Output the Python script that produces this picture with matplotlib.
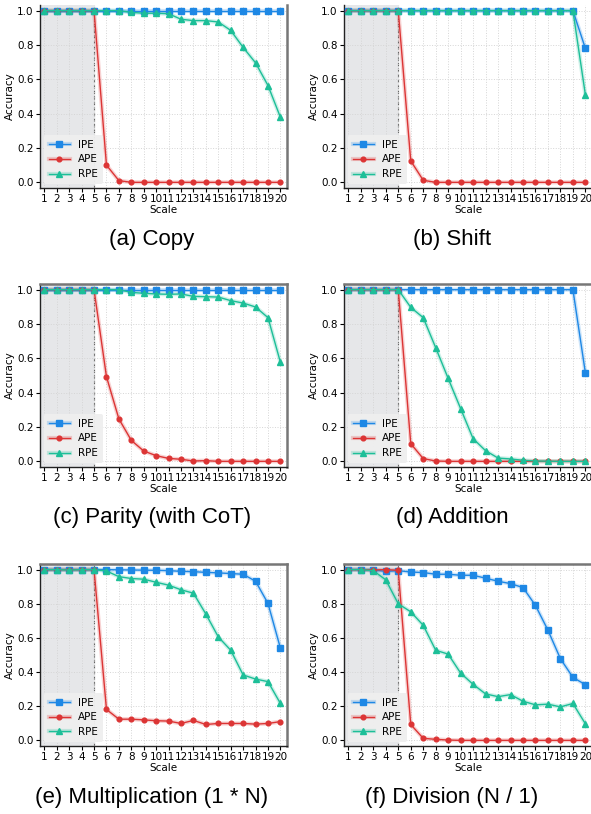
import matplotlib
matplotlib.use("Agg")
import matplotlib.pyplot as plt

scale = list(range(1, 21))

# (a) Copy
copy_ipe = [1.0] * 20
copy_ape = [1, 1, 1, 1, 1, 0.10, 0.01, 0, 0, 0, 0, 0, 0, 0, 0, 0, 0, 0, 0, 0]
copy_rpe = [1, 1, 1, 1, 1, 1, 1, 0.99, 0.985, 0.985, 0.982, 0.95, 0.942, 0.942, 0.934,
            0.885, 0.786, 0.696, 0.564, 0.379]

# (b) Shift
shift_ipe = [1.0] * 19 + [0.78]
shift_ape = [1, 1, 1, 1, 1, 0.125, 0.012, 0, 0, 0, 0, 0, 0, 0, 0, 0, 0, 0, 0, 0]
shift_rpe = [1.0] * 19 + [0.51]

# (c) Parity (with CoT)
parity_ipe = [1.0] * 20
parity_ape = [1, 1, 1, 1, 1, 0.493, 0.247, 0.122, 0.06, 0.033, 0.017, 0.012, 0.002, 0.004,
              0, 0, 0, 0, 0, 0]
parity_rpe = [1, 1, 1, 1, 1, 1, 1, 0.984, 0.979, 0.975, 0.973, 0.975, 0.961, 0.959, 0.957,
              0.936, 0.922, 0.899, 0.837, 0.577]

# (d) Addition
add_ipe = [1.0] * 19 + [0.515]
add_ape = [1, 1, 1, 1, 1, 0.103, 0.016, 0.002, 0, 0, 0, 0, 0, 0, 0, 0, 0, 0, 0, 0]
add_rpe = [1, 1, 1, 1, 1, 0.897, 0.837, 0.662, 0.483, 0.307, 0.132, 0.062, 0.019, 0.014,
           0.006, 0.002, 0.001, 0, 0, 0]

# (e) Multiplication (1 * N)
mul_ipe = [1, 1, 1, 1, 1, 1, 0.999, 0.998, 0.997, 0.996, 0.994, 0.99, 0.988, 0.984, 0.981,
           0.977, 0.973, 0.932, 0.802, 0.54]
mul_ape = [1, 1, 1, 1, 1, 0.181, 0.124, 0.124, 0.12, 0.115, 0.113, 0.099, 0.117, 0.093,
           0.099, 0.099, 0.099, 0.095, 0.099, 0.11]
mul_rpe = [1, 1, 0.998, 1, 1, 0.992, 0.959, 0.948, 0.944, 0.926, 0.909, 0.882, 0.862, 0.74,
           0.606, 0.528, 0.383, 0.359, 0.344, 0.216]

# (f) Division (N / 1)
div_ipe = [1, 1, 0.998, 0.99, 0.994, 0.986, 0.983, 0.973, 0.973, 0.967, 0.967, 0.95, 0.932,
           0.918, 0.895, 0.79, 0.645, 0.478, 0.369, 0.326]
div_ape = [1, 1, 0.998, 1, 0.996, 0.093, 0.012, 0.006, 0.002, 0, 0, 0, 0, 0, 0, 0, 0, 0, 0, 0]
div_rpe = [1, 1, 0.994, 0.94, 0.8, 0.753, 0.674, 0.528, 0.505, 0.394, 0.328, 0.272, 0.256,
           0.268, 0.229, 0.208, 0.212, 0.196, 0.216, 0.097]

panels = [
    ("(a) Copy", copy_ipe, copy_ape, copy_rpe),
    ("(b) Shift", shift_ipe, shift_ape, shift_rpe),
    ("(c) Parity (with CoT)", parity_ipe, parity_ape, parity_rpe),
    ("(d) Addition", add_ipe, add_ape, add_rpe),
    ("(e) Multiplication (1 * N)", mul_ipe, mul_ape, mul_rpe),
    ("(f) Division (N / 1)", div_ipe, div_ape, div_rpe),
]

W, H = 591, 814
plt.rcParams['font.size'] = 7.5
fig = plt.figure(figsize=(W / 100, H / 100), dpi=100)

col_x = [40, 344]
col_w = [247, 248]
row_top = [5, 284, 564]
row_h = [183, 183, 182]
cap_x = [152, 452]
cap_y = [240, 517, 797]

styles = [("IPE", "#1e88e5", "s", 4.0), ("APE", "#dc3535", "o", 3.4), ("RPE", "#1dbf98", "^", 4.0)]

for i, (title, ipe, ape, rpe) in enumerate(panels):
    r, c = divmod(i, 2)
    ax = fig.add_axes([col_x[c] / W, 1 - (row_top[r] + row_h[r]) / H, col_w[c] / W, row_h[r] / H])
    ax.set_xlim(0.65, 20.53)
    ax.set_ylim(-0.033, 1.033)
    ax.axvspan(0.65, 5, color="#e6e7e9", zorder=0)
    ax.axvline(5, color="#666666", ls=(0, (3, 2)), lw=0.8, zorder=1)
    ax.grid(True, ls=":", color="#d5d5d5", lw=0.7, zorder=0)
    handles = []
    for (name, col, mk, ms), vals in zip(styles, [ipe, ape, rpe]):
        band, = ax.plot(scale, vals, color=col, lw=3.0, alpha=0.22, zorder=2)
        line, = ax.plot(scale, vals, color=col, lw=1.0, marker=mk, ms=ms, zorder=3)
        handles.append((band, line))
    leg = ax.legend(handles, ["IPE", "APE", "RPE"], loc="lower left", facecolor="#efefef",
                    edgecolor="none", framealpha=0.95, fontsize=7.5, handlelength=2.0,
                    borderaxespad=0.4, labelspacing=0.45, borderpad=0.45)
    leg.set_zorder(5)
    ax.set_xticks(scale)
    ax.set_yticks([0, 0.2, 0.4, 0.6, 0.8, 1.0])
    ax.tick_params(length=3, width=0.8, pad=1.5)
    ax.set_xlabel("Scale", labelpad=0.5)
    ax.set_ylabel("Accuracy", labelpad=2)
    for s in ["left", "bottom"]:
        ax.spines[s].set_color("#222222")
        ax.spines[s].set_linewidth(1.0)
    for s in ["top", "right"]:
        ax.spines[s].set_color("#777777")
        ax.spines[s].set_linewidth(1.8)
    if r == 0:
        ax.spines["top"].set_visible(False)
    fig.text(cap_x[c] / W, 1 - cap_y[r] / H, title, ha="center", va="center",
             fontsize=16, family="Liberation Sans")

fig.savefig("out.png", dpi=100)
